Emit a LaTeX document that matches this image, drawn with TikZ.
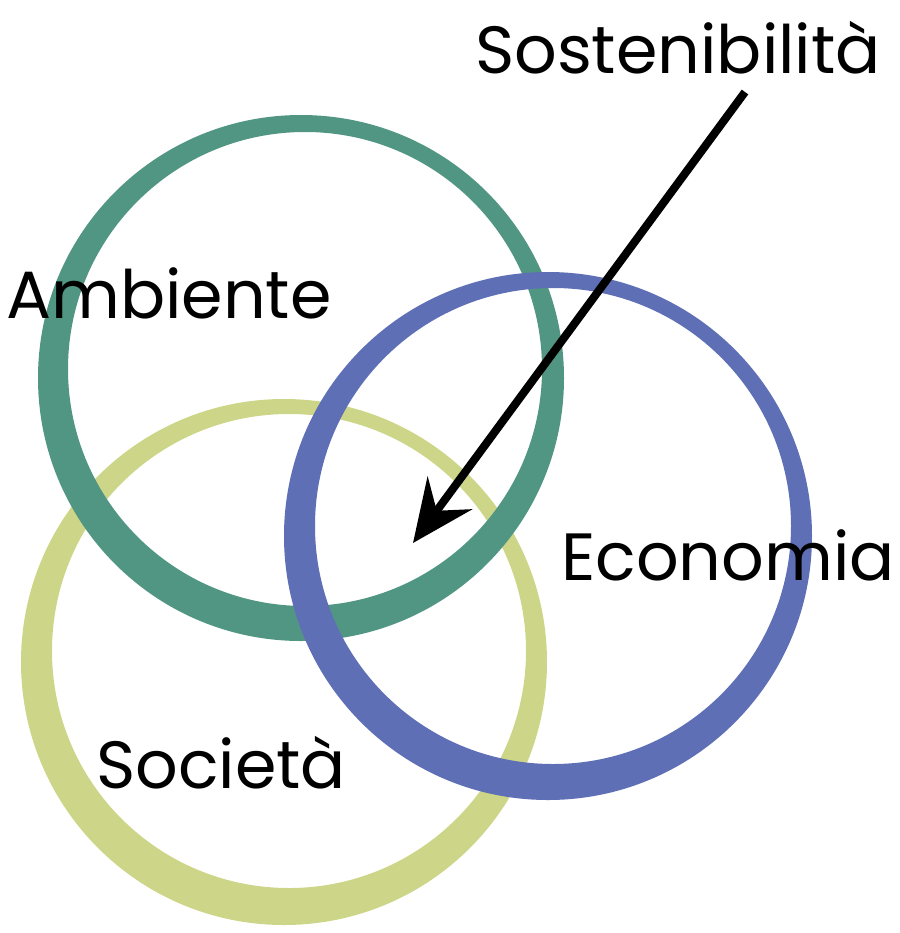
\documentclass[tikz,border=0pt]{standalone}
\usepackage{fontspec}
\setmainfont{Poppins}
\usepackage{tikz}
\usetikzlibrary{arrows.meta}
\definecolor{AmbGreen}{RGB}{81,150,131}
\definecolor{SocYellow}{RGB}{205,214,136}
\definecolor{EcoBlue}{RGB}{95,111,181}

\begin{document}
\begin{tikzpicture}[x=0.01cm, y=0.01cm,
	ring/.style={even odd rule},
	word/.style={font=\fontsize{19}{22}\selectfont, inner sep=0pt, anchor=base}]
	\useasboundingbox (0,0) rectangle (900,-933);

	%Societa
	\fill [SocYellow, ring] (284,-662) circle (263) (289,-651) circle (237);

	%Ambiente
	\fill [AmbGreen, ring] (301,-378) circle (263) (305,-369) circle (237);

	%Economia
	\fill [EcoBlue, ring] (548,-536) circle (264) (553,-526) circle (238);

	%Labels
	\node (Sost) [word] at (678,-73) {Sostenibilità};
	\node (Amb) [word] at (169,-318) {Ambiente};
	\node (Eco) [word] at (728,-580) {Economia};
	\node (Soc) [word] at (221,-788) {Società};

	%Arrow
	\coordinate (ArrTail) at (745,-92);
	\coordinate (ArrTip) at (413,-543);
	\draw [line width=2.3pt, -{Stealth[length=0.62cm, width=0.55cm, inset=0.22cm]}] (ArrTail) -- (ArrTip);
\end{tikzpicture}
\end{document}
